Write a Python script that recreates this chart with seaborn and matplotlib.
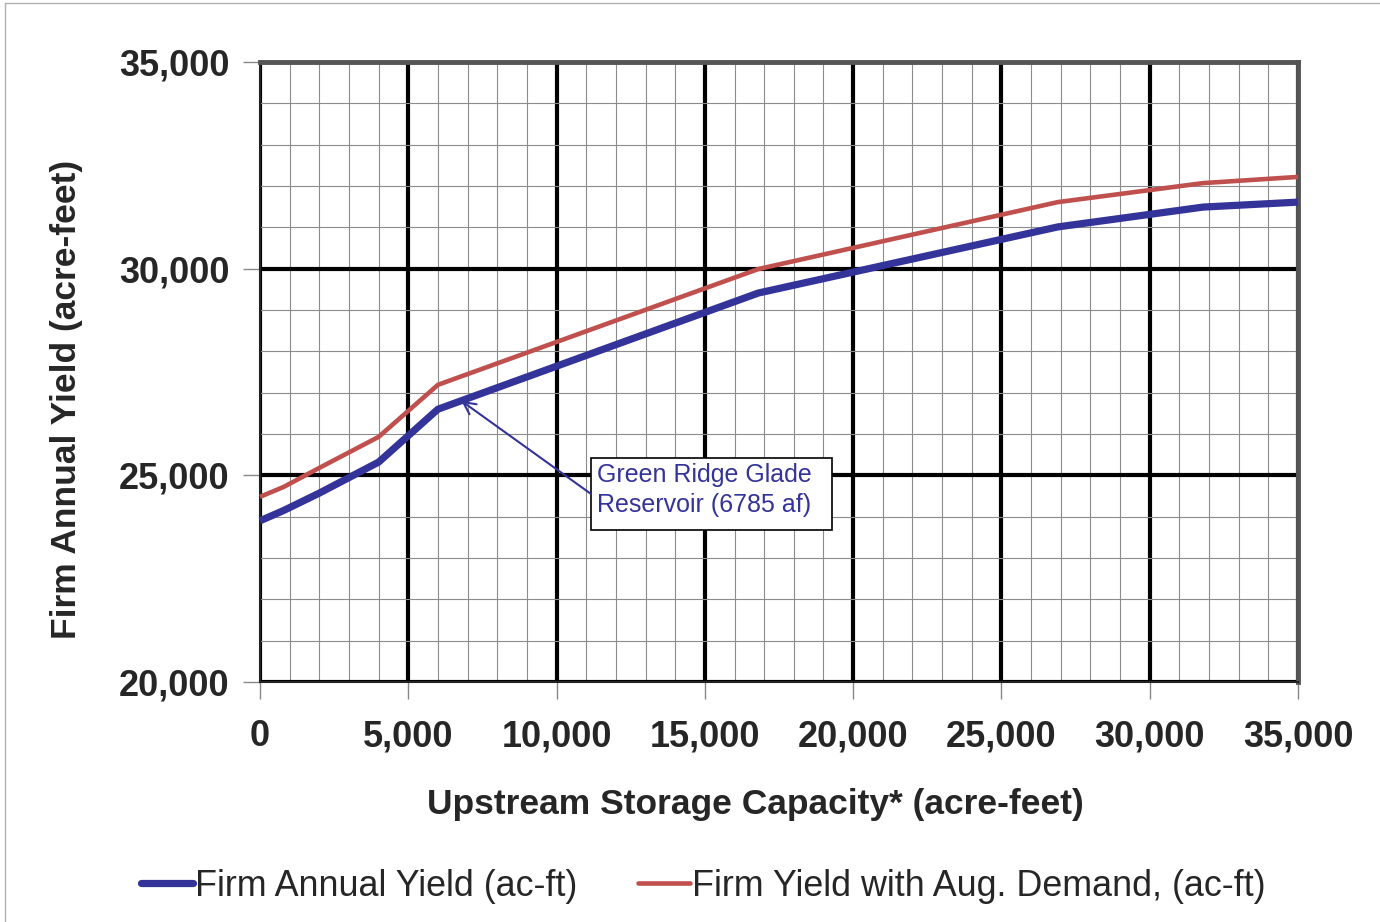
import numpy as np
import pandas as pd
import matplotlib
matplotlib.use("Agg")
import matplotlib.pyplot as plt
from matplotlib.ticker import MultipleLocator, FuncFormatter
from matplotlib.lines import Line2D
from matplotlib.patches import Rectangle
import seaborn as sns

# Upstream storage capacity (acre-feet) and the resulting firm yields
storage = [0, 800, 2000, 4000, 6000, 16800, 26900, 31800, 35000]
firm_yield = [23900, 24150, 24570, 25320, 26600, 29410, 31010, 31490, 31610]
aug_yield = [24480, 24720, 25180, 25930, 27190, 29990, 31610, 32070, 32220]

label_firm = "Firm Annual Yield (ac-ft)"
label_aug = "Firm Yield with Aug. Demand, (ac-ft)"
reservoir_name = "Green Ridge Glade\nReservoir (6785 af)"
reservoir_storage = 6785

sns.set_style("white")
plt.rcParams["font.family"] = ["Liberation Sans", "DejaVu Sans"]

blue = "#333399"
red = "#C0504D"

fig = plt.figure(figsize=(13.8, 9.22), dpi=100)
ax = fig.add_axes([260 / 1380, 1 - 682 / 922, 1038 / 1380, 620 / 922])

df = pd.DataFrame({"storage": storage, "firm": firm_yield, "aug": aug_yield})
sns.lineplot(data=df, x="storage", y="firm", ax=ax, color=blue, lw=5.2,
             solid_capstyle="butt", zorder=5, clip_on=False)
sns.lineplot(data=df, x="storage", y="aug", ax=ax, color=red, lw=3.3,
             solid_capstyle="butt", zorder=5, clip_on=False)

ax.set_xlim(0, 35000)
ax.set_ylim(20000, 35000)
ax.xaxis.set_major_locator(MultipleLocator(5000))
ax.yaxis.set_major_locator(MultipleLocator(5000))
ax.xaxis.set_minor_locator(MultipleLocator(1000))
ax.yaxis.set_minor_locator(MultipleLocator(1000))
ax.grid(which="minor", color="#8c8c8c", lw=0.8)
ax.grid(which="major", color="black", lw=3)
ax.set_axisbelow(True)

fmt = FuncFormatter(lambda v, p: f"{int(v):,}")
ax.xaxis.set_major_formatter(fmt)
ax.yaxis.set_major_formatter(fmt)
ax.tick_params(which="major", direction="out", length=12, width=1, color="#888888",
               labelsize=26, bottom=True, left=True)
ax.tick_params(axis="x", which="major", pad=15)
ax.tick_params(axis="y", which="major", pad=10)
ax.tick_params(which="minor", length=0)
for t in ax.get_xticklabels() + ax.get_yticklabels():
    t.set_fontweight("bold")

ax.set_xlabel("Upstream Storage Capacity* (acre-feet)", fontsize=25.5,
              fontweight="bold", labelpad=24, x=0.477)
ax.set_ylabel("Firm Annual Yield (acre-feet)", fontsize=25.5,
              fontweight="bold", labelpad=26, y=0.455)

for side in ["left", "bottom"]:
    ax.spines[side].set_color("#222222")
    ax.spines[side].set_linewidth(1.5)
for side in ["top", "right"]:
    ax.spines[side].set_color("#555555")
    ax.spines[side].set_linewidth(3.5)

# Callout for the reservoir on the firm-yield curve
box_x0, box_x1 = 11160, 19290
box_y0, box_y1 = 23680, 25420
box_ymid = (box_y0 + box_y1) / 2
ax.add_patch(Rectangle((box_x0, box_y0), box_x1 - box_x0, box_y1 - box_y0,
                       fc="white", ec="black", lw=1.2, zorder=9))
ax.text(box_x0 + 200, box_ymid + 90, reservoir_name, fontsize=18, color=blue,
        ha="left", va="center", linespacing=1.3, zorder=10)
res_yield = np.interp(reservoir_storage, storage, firm_yield)
ax.annotate("", xy=(reservoir_storage, res_yield), xytext=(box_x0, box_ymid),
            arrowprops=dict(arrowstyle="->", color=blue, lw=1.5,
                            shrinkA=0, shrinkB=0, mutation_scale=22),
            zorder=10)

handles = [Line2D([0], [0], color=blue, lw=5.2, solid_capstyle="round"),
           Line2D([0], [0], color=red, lw=3.3, solid_capstyle="round")]
fig.legend(handles, [label_firm, label_aug], loc="center",
           bbox_to_anchor=(703 / 1380, 1 - 886 / 922), ncol=2, frameon=False,
           fontsize=25.8, handlelength=1.45, handletextpad=0.05, columnspacing=1.7)

# Thin outer frame
fig.add_artist(Line2D([5 / 1380, 5 / 1380], [0, 1 - 3 / 922],
                      transform=fig.transFigure, color="#b0b0b0", lw=1))
fig.add_artist(Line2D([5 / 1380, 1], [1 - 3 / 922, 1 - 3 / 922],
                      transform=fig.transFigure, color="#b0b0b0", lw=1))

fig.savefig("out.png", dpi=100)
